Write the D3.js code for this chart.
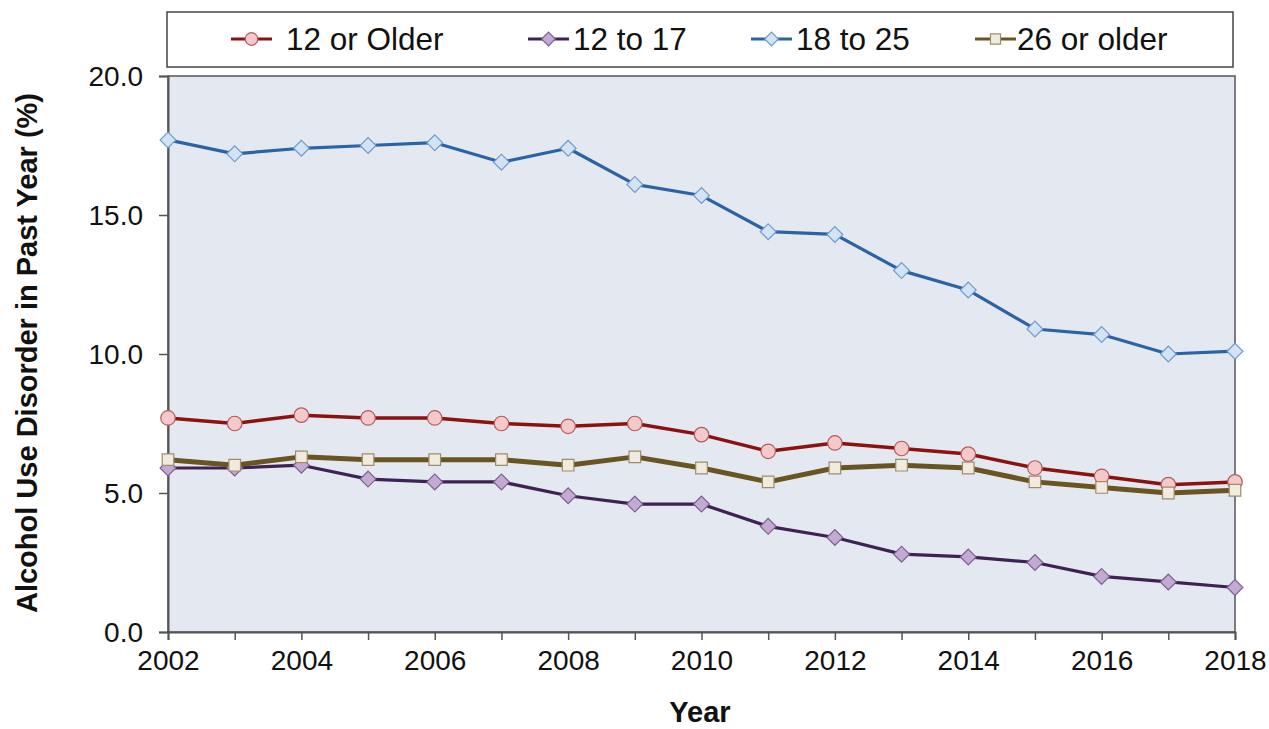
<!DOCTYPE html>
<html>
<head>
<meta charset="utf-8">
<script src="https://cdnjs.cloudflare.com/ajax/libs/d3/7.8.5/d3.min.js"></script>
<style>
  body { margin: 0; background: #fff; }
  svg { display: block; font-family: "Liberation Sans", Arial, Helvetica, sans-serif; }
  .tick text { font-size: 28px; fill: #111; }
  .label { font-size: 29px; font-weight: bold; fill: #111; }
  .legend-text { font-size: 31.5px; fill: #111; }
</style>
</head>
<body>
<div id="chart"></div>
<script>
// data
const years = [2002, 2003, 2004, 2005, 2006, 2007, 2008, 2009, 2010, 2011, 2012, 2013, 2014, 2015, 2016, 2017, 2018];
const seriesNames = ['12 or Older', '12 to 17', '18 to 25', '26 or older'];
const olderThan12 = [7.7, 7.5, 7.8, 7.7, 7.7, 7.5, 7.4, 7.5, 7.1, 6.5, 6.8, 6.6, 6.4, 5.9, 5.6, 5.3, 5.4];
const age12to17 = [5.9, 5.9, 6.0, 5.5, 5.4, 5.4, 4.9, 4.6, 4.6, 3.8, 3.4, 2.8, 2.7, 2.5, 2.0, 1.8, 1.6];
const age18to25 = [17.7, 17.2, 17.4, 17.5, 17.6, 16.9, 17.4, 16.1, 15.7, 14.4, 14.3, 13.0, 12.3, 10.9, 10.7, 10.0, 10.1];
const age26up = [6.2, 6.0, 6.3, 6.2, 6.2, 6.2, 6.0, 6.3, 5.9, 5.4, 5.9, 6.0, 5.9, 5.4, 5.2, 5.0, 5.1];
const yTicks = [0, 5, 10, 15, 20];
const xTickLabels = [2002, 2004, 2006, 2008, 2010, 2012, 2014, 2016, 2018];

const w = 1269;
const h = 729;
const margin = {top: 76, right: 34, bottom: 97, left: 168};

// style per series (rot = square turned into a diamond)
const styles = [
  {values: olderThan12, line: '#8c1212', width: 3.5, fill: '#f4c9c9', stroke: '#b85a5a', shape: d3.symbolCircle, size: 165, rot: 0},
  {values: age12to17, line: '#3e2253', width: 3.2, fill: '#c3aad3', stroke: '#7e5f92', shape: d3.symbolSquare, size: 125, rot: 45},
  {values: age18to25, line: '#2a63a6', width: 3.2, fill: '#d2e3f5', stroke: '#6f9bcc', shape: d3.symbolSquare, size: 125, rot: 45},
  {values: age26up, line: '#6a5522', width: 5, fill: '#f1ebdf', stroke: '#9e8c6c', shape: d3.symbolSquare, size: 135, rot: 0}
];

const svg = d3.select('#chart')
              .append('svg')
              .attr('width', w)
              .attr('height', h);

//Scales
const xScale = d3.scaleLinear()
                 .domain([2002, 2018])
                 .range([margin.left, w - margin.right]);

const yScale = d3.scaleLinear()
                 .domain([0, 20])
                 .range([h - margin.bottom, margin.top]);

//Panel
svg.append('rect')
   .attr('x', margin.left)
   .attr('y', margin.top)
   .attr('width', xScale(2018) - margin.left)
   .attr('height', yScale(0) - margin.top)
   .attr('fill', '#e4e9f1')
   .attr('stroke', '#555')
   .attr('stroke-width', 1.5);

//Axes
const xAxis = d3.axisBottom(xScale)
                .tickValues(years)
                .tickSize(8)
                .tickPadding(10)
                .tickFormat(d => xTickLabels.includes(d) ? d : '');

const yAxis = d3.axisLeft(yScale)
                .tickValues(yTicks)
                .tickSize(9)
                .tickPadding(16)
                .tickFormat(d3.format('.1f'));

const gx = svg.append('g')
   .attr('transform', `translate(0, ${yScale(0)})`)
   .attr('id', 'x-axis')
   .call(xAxis);

const gy = svg.append('g')
   .attr('transform', `translate(${margin.left}, 0)`)
   .attr('id', 'y-axis')
   .call(yAxis);

[gx, gy].forEach(g => {
  g.select('.domain').attr('stroke', '#555').attr('stroke-width', 2);
  g.selectAll('.tick line').attr('stroke', '#555').attr('stroke-width', 1.5);
});
gy.selectAll('.tick text').attr('dy', '0.35em');

//Lines and markers
const line = d3.line()
               .x((d, i) => xScale(years[i]))
               .y(d => yScale(d));

styles.forEach(s => {
  svg.append('path')
     .datum(s.values)
     .attr('d', line)
     .attr('fill', 'none')
     .attr('stroke', s.line)
     .attr('stroke-width', s.width)
     .attr('stroke-linejoin', 'round');
});

styles.forEach(s => {
  svg.selectAll(null)
     .data(s.values)
     .enter()
     .append('path')
     .attr('d', d3.symbol().type(s.shape).size(s.size))
     .attr('transform', (d, i) => `translate(${xScale(years[i])}, ${yScale(d)}) rotate(${s.rot})`)
     .attr('fill', s.fill)
     .attr('stroke', s.stroke)
     .attr('stroke-width', 1.2);
});

//Legend
svg.append('rect')
   .attr('x', 167)
   .attr('y', 12)
   .attr('width', 1066)
   .attr('height', 55)
   .attr('fill', '#fff')
   .attr('stroke', '#444')
   .attr('stroke-width', 1.5);

const legendX = [231, 528, 751, 975];
const legendGap = [14, 4, 4, 1];
seriesNames.forEach((name, i) => {
  const s = styles[i];
  const g = svg.append('g').attr('transform', `translate(${legendX[i]}, 39)`);
  g.append('line')
   .attr('x1', 0).attr('x2', 41)
   .attr('stroke', s.line)
   .attr('stroke-width', 3);
  g.append('path')
   .attr('d', d3.symbol().type(s.shape).size(s.size * 0.75))
   .attr('transform', `translate(20.5, 0) rotate(${s.rot})`)
   .attr('fill', s.fill)
   .attr('stroke', s.stroke)
   .attr('stroke-width', 1.2);
  g.append('text')
   .attr('class', 'legend-text')
   .attr('x', 41 + legendGap[i])
   .attr('y', 11)
   .text(name);
});

//Axes labels
svg.append('text')
   .attr('class', 'label')
   .attr('text-anchor', 'middle')
   .attr('x', 700)
   .attr('y', 722)
   .text('Year');

svg.append('text')
   .attr('class', 'label')
   .attr('text-anchor', 'middle')
   .attr('transform', 'rotate(-90)')
   .attr('x', -353)
   .attr('y', 37)
   .text('Alcohol Use Disorder in Past Year (%)');
</script>
</body>
</html>
